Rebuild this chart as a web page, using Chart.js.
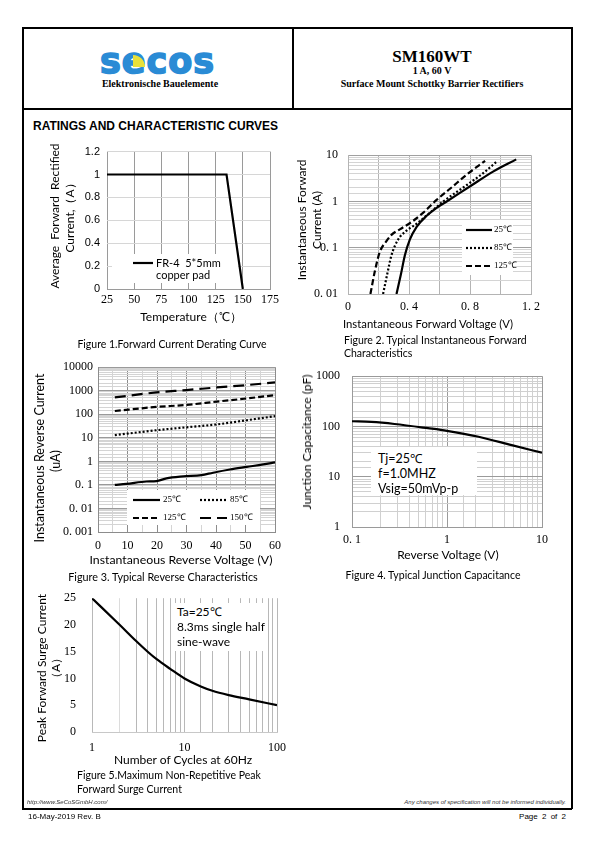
<!DOCTYPE html>
<html>
<head>
<meta charset="utf-8">
<script src="https://cdn.jsdelivr.net/npm/chart.js@4.4.1/dist/chart.umd.min.js"></script>
<style>
body { margin: 0; width: 595px; height: 842px; position: relative; background: #fff; overflow: hidden; }
.t { position: absolute; white-space: nowrap; color: #000; line-height: 1; font-family: Lato, sans-serif; font-size: 12px; }
.c { transform: translate(-50%, -50%); }
.l { transform: translateY(-50%); }
.r { transform: translate(-100%, -50%); }
.v { transform: translate(-50%, -50%) rotate(-90deg); }
.hd { font-family: "Liberation Serif", serif; font-weight: bold; font-size: 10px; }
.cap { font-size: 10.5px; }
.ft { font-family: "Liberation Sans", sans-serif; font-size: 6px; font-style: italic; color: #333; }
.note { position: absolute; background: #fff; }
canvas { position: absolute; }
.line { position: absolute; background: #000; }
</style>
</head>
<body>

<!-- page frame -->
<div class="line" style="left:22px;top:27px;width:550px;height:1.5px"></div>
<div class="line" style="left:22px;top:108px;width:550px;height:1.5px"></div>
<div class="line" style="left:22px;top:808px;width:550px;height:1.5px"></div>
<div class="line" style="left:22px;top:27px;width:1.5px;height:782px"></div>
<div class="line" style="left:571px;top:27px;width:1.5px;height:782px"></div>
<div class="line" style="left:292px;top:27px;width:1.5px;height:81px"></div>

<!-- header -->
<div class="t" style="left:100px;top:44px;font-family:'DejaVu Sans';font-weight:bold;font-size:35px;letter-spacing:1px;color:#2a8bd5;-webkit-text-stroke:1.6px #2a8bd5">secos</div>
<div style="position:absolute;left:133px;top:55px;width:12px;height:12px;background:#e8e03a;border-top-right-radius:12px"></div>
<div class="t c hd" style="left:160px;top:84px">Elektronische Bauelemente</div>
<div class="t c hd" style="left:432px;top:56px;font-size:17px">SM160WT</div>
<div class="t c hd" style="left:432px;top:71px">1 A, 60 V</div>
<div class="t c hd" style="left:432px;top:84px">Surface Mount Schottky Barrier Rectifiers</div>
<div class="t l" style="left:33px;top:126px;font-family:'Liberation Sans';font-weight:bold;font-size:12px">RATINGS AND CHARACTERISTIC CURVES</div>

<!-- chart 1 -->
<canvas id="c1"></canvas>
<div class="t v" style="left:55px;top:216px">Average&nbsp; Forward&nbsp; Rectified</div>
<div class="t v" style="left:70px;top:215px">Current,（A）</div>
<div class="t c" style="left:191px;top:317px">Temperature（℃）</div>
<div class="t c cap" style="left:172px;top:344px">Figure 1.Forward Current Derating Curve</div>

<!-- chart 2 -->
<canvas id="c2"></canvas>
<div class="t v" style="left:302px;top:220px">Instantaneous Forward</div>
<div class="t v" style="left:317px;top:220px">Current (A)</div>
<div class="t c" style="left:428px;top:324px;font-size:11.3px">Instantaneous Forward Voltage (V)</div>
<div class="t l cap" style="left:344px;top:340px">Figure 2. Typical Instantaneous Forward</div>
<div class="t l cap" style="left:344px;top:353px">Characteristics</div>

<!-- chart 3 -->
<canvas id="c3"></canvas>
<div class="t v" style="left:40px;top:458px;font-size:12.5px">Instantaneous Reverse Current</div>
<div class="t v" style="left:56px;top:461px;font-size:12.5px">(uA)</div>
<div class="t c" style="left:181px;top:560px;font-size:12.3px">Instantaneous Reverse Voltage (V)</div>
<div class="t c cap" style="left:163px;top:577px;font-size:10.8px">Figure 3. Typical Reverse Characteristics</div>

<!-- chart 4 -->
<canvas id="c4"></canvas>
<div class="t v" style="left:307px;top:442px">Junction Capacitance (pF)</div>
<div class="t c" style="left:448px;top:555px">Reverse Voltage (V)</div>
<div class="t c cap" style="left:433px;top:575px">Figure 4. Typical Junction Capacitance</div>
<div class="note" style="left:371px;top:447px;width:106px;height:48px"></div>
<div class="t l" style="left:378px;top:459px;font-size:12.5px">Tj=25℃</div>
<div class="t l" style="left:378px;top:474px;font-size:12.5px">f=1.0MHZ</div>
<div class="t l" style="left:378px;top:489px;font-size:12.5px">Vsig=50mVp-p</div>

<!-- chart 5 -->
<canvas id="c5"></canvas>
<div class="t v" style="left:42px;top:668px">Peak Forward Surge Current</div>
<div class="t v" style="left:56px;top:668px">（A）</div>
<div class="t c" style="left:183px;top:760px">Number of Cycles at 60Hz</div>
<div class="t l cap" style="left:77px;top:775px">Figure 5.Maximum Non-Repetitive Peak</div>
<div class="t l cap" style="left:77px;top:789px">Forward Surge Current</div>
<div class="note" style="left:172px;top:603px;width:92px;height:48px"></div>
<div class="t l" style="left:177px;top:612px">Ta=25℃</div>
<div class="t l" style="left:177px;top:627px">8.3ms single half</div>
<div class="t l" style="left:177px;top:642px">sine-wave</div>

<!-- footer -->
<div class="t l ft" style="left:27px;top:802px">http://www.SeCoSGmbH.com/</div>
<div class="t r ft" style="left:566px;top:802px">Any changes of specification will not be informed individually.</div>
<div class="t l" style="left:28px;top:817px;font-family:'Liberation Sans';font-size:8px">16-May-2019 Rev. B</div>
<div class="t r" style="left:566px;top:817px;font-family:'Liberation Sans';font-size:8px;word-spacing:2px">Page 2 of 2</div>

<script>
// Figure 1 - derating
const deratTemp = [25, 135, 150];
const deratAmp = [1, 1, 0];
const deratYLabels = ['0', '0.2', '0.4', '0.6', '0.8', '1', '1.2'];

// Figure 2 - forward characteristics
const fwdV25 = [0.318, 0.347, 0.373, 0.406, 0.45, 0.516, 0.581, 0.647, 0.801, 0.954, 1.103];
const fwdI25 = [0.01, 0.0266, 0.0687, 0.151, 0.283, 0.49, 0.73, 1.0, 2.13, 4.48, 8.13];
const fwdV85 = [0.23, 0.257, 0.285, 0.329, 0.384, 0.45, 0.538, 0.625, 0.779, 0.888, 0.98];
const fwdI85 = [0.01, 0.0266, 0.0687, 0.151, 0.234, 0.33, 0.575, 1.0, 2.27, 4.13, 7.53];
const fwdV125 = [0.147, 0.176, 0.208, 0.252, 0.285, 0.34, 0.417, 0.494, 0.581, 0.669, 0.779, 0.899];
const fwdI125 = [0.01, 0.031, 0.08, 0.139, 0.19, 0.25, 0.36, 0.575, 1.08, 1.88, 3.82, 7.53];
const fwdXLabels = ['0', '', '0. 4', '', '0. 8', '', '1. 2'];
const fwdYTicks = [0.01, 0.1, 1, 10];
const fwdYLabels = ['0. 01', '0. 1', '1', '10'];

// Figure 3 - reverse characteristics
const rev25Volt = [5.7, 9.6, 16.4, 19.8, 23.2, 28.9, 35.1, 39, 44.7, 50.4, 56, 60];
const rev25Cur = [0.1, 0.11, 0.14, 0.145, 0.19, 0.23, 0.26, 0.33, 0.45, 0.58, 0.74, 0.91];
const revVolt = [5.7, 19.8, 30, 40.2, 50.4, 60];
const rev85Cur = [13, 21, 28, 37, 56, 83];
const rev125Cur = [138, 205, 250, 345, 470, 650];
const rev150Cur = [520, 850, 1070, 1380, 1740, 2250];
const revXLabels = ['0', '', '10', '', '20', '', '30', '', '40', '', '50', '', '60'];
const revYTicks = [0.001, 0.01, 0.1, 1, 10, 100, 1000, 10000];
const revYLabels = ['0. 001', '0. 01', '0. 1', '1', '10', '100', '1000', '10000'];

// Figure 4 - junction capacitance
const capVolt = [0.1, 0.16, 0.28, 0.63, 1.0, 2.15, 4.8, 10];
const capPf = [127, 123, 112, 92.5, 82, 62.5, 42.5, 30];
const capXTicks = [0.1, 1, 10];
const capXLabels = ['0. 1', '1', '10'];
const capYTicks = [1, 10, 100, 1000];
const capYLabels = ['1', '10', '100', '1000'];

// Figure 5 - surge current
const surgeCycles = [1, 2, 3, 4, 5, 7, 10, 15, 20, 30, 50, 100];
const surgeAmp = [25, 20, 17, 15, 13.6, 11.8, 10, 8.5, 7.7, 6.9, 6.1, 5.0];
const surgeXTicks = [1, 10, 100];
const surgeXLabels = ['1', '10', '100'];

const serif = { family: 'Liberation Serif', size: 12 };

function pts(xs, ys) {
    return xs.map((x, i) => ({ x: x, y: ys[i] }));
}

function isDecade(v) {
    const e = Math.log10(v);
    return Math.abs(e - Math.round(e)) < 1e-6;
}

function logLabel(ticks, labels) {
    return v => {
        const i = ticks.findIndex(t => Math.abs(v / t - 1) < 1e-6);
        return i < 0 ? '' : labels[i];
    };
}

function logGrid(major, minor) {
    return ctx => (ctx.tick && isDecade(ctx.tick.value)) ? major : minor;
}

function series(label, data, dash, smooth) {
    return {
        label: label, data: data, borderColor: '#000', borderWidth: 2.2,
        borderDash: dash || [], pointRadius: 0, fill: false,
        cubicInterpolationMode: smooth ? 'monotone' : 'default', tension: 0
    };
}

// legend drawn inside the plot, in page coordinates
const insideLegend = {
    id: 'insideLegend',
    beforeDatasetsDraw(chart, args, opts) {
        if (!opts.items) return;
        const ctx = chart.ctx;
        const ox = opts.origin[0], oy = opts.origin[1];
        ctx.save();
        ctx.fillStyle = '#fff';
        ctx.fillRect(opts.box[0] - ox, opts.box[1] - oy, opts.box[2], opts.box[3]);
        opts.items.forEach(it => {
            const ds = chart.data.datasets[it.ds];
            ctx.strokeStyle = ds.borderColor;
            ctx.lineWidth = ds.borderWidth;
            ctx.setLineDash(ds.borderDash || []);
            ctx.beginPath();
            ctx.moveTo(it.x - ox, it.y - oy);
            ctx.lineTo(it.x - ox + opts.len, it.y - oy);
            ctx.stroke();
            ctx.setLineDash([]);
            ctx.fillStyle = '#000';
            ctx.font = opts.font;
            ctx.textBaseline = 'middle';
            ds.label.split('\n').forEach((s, k) => {
                ctx.fillText(s, it.x - ox + opts.len + opts.gap, it.y - oy + k * opts.lineH);
            });
        });
        ctx.restore();
    }
};

function drawChart(id, box, plot, datasets, scales, legend) {
    const c = document.getElementById(id);
    c.width = box.w;
    c.height = box.h;
    c.style.left = box.l + 'px';
    c.style.top = box.t + 'px';
    scales.x.afterFit = s => { s.height = box.t + box.h - plot.b; };
    scales.y.afterFit = s => { s.width = plot.l - box.l; };
    if (legend) legend.origin = [box.l, box.t];
    return new Chart(c, {
        type: 'line',
        data: { datasets: datasets },
        options: {
            responsive: false,
            animation: false,
            events: [],
            layout: { padding: { top: plot.t - box.t, right: box.l + box.w - plot.r, left: 0, bottom: 0 } },
            scales: scales,
            plugins: { legend: { display: false }, tooltip: { enabled: false }, insideLegend: legend || {} }
        },
        plugins: [insideLegend]
    });
}

// Figure 1
drawChart('c1', { l: 60, t: 138, w: 230, h: 172 }, { l: 107, t: 148, r: 270, b: 289 },
    [series('FR-4  5*5mm\ncopper pad', pts(deratTemp, deratAmp))],
    {
        x: { type: 'linear', min: 25, max: 175,
            ticks: { stepSize: 25, padding: 4, font: serif, color: '#000', autoSkip: false, maxRotation: 0 },
            grid: { color: '#9a9a9a', drawTicks: false }, border: { color: '#9a9a9a' } },
        y: { type: 'linear', min: 0, max: 1.2,
            ticks: { stepSize: 0.2, padding: 7, font: { family: 'Liberation Sans', size: 11 }, color: '#000',
                autoSkip: false, callback: (v, i) => deratYLabels[i] },
            grid: { color: '#d6d6d6', drawTicks: false }, border: { display: false } }
    },
    { box: [112, 254, 126, 29], len: 20, gap: 3, lineH: 12, font: '11px Lato',
      items: [{ ds: 0, x: 133, y: 263 }] });

// Figure 2
drawChart('c2', { l: 305, t: 138, w: 250, h: 180 }, { l: 348, t: 148, r: 531, b: 294 },
    [
        series('25℃', pts(fwdV25, fwdI25), [], true),
        series('85℃', pts(fwdV85, fwdI85), [2, 2], true),
        series('125℃', pts(fwdV125, fwdI125), [6, 3], true)
    ],
    {
        x: { type: 'linear', min: 0, max: 1.2,
            ticks: { stepSize: 0.2, padding: 6, font: serif, color: '#000', autoSkip: false, maxRotation: 0,
                callback: (v, i) => fwdXLabels[i] },
            grid: { color: '#b4b4b4', drawTicks: false }, border: { color: '#b4b4b4' } },
        y: { type: 'logarithmic', min: 0.01, max: 10,
            ticks: { padding: 10, font: serif, color: '#000', autoSkip: false, callback: logLabel(fwdYTicks, fwdYLabels) },
            grid: { color: logGrid('#a0a0a0', '#d4d4d4'), drawTicks: false }, border: { color: '#b4b4b4' } }
    },
    { box: [462, 220, 51, 55], len: 26, gap: 2, lineH: 10, font: '9px "Liberation Serif"',
      items: [{ ds: 0, x: 466, y: 230 }, { ds: 1, x: 466, y: 248 }, { ds: 2, x: 466, y: 266 }] });

// Figure 3
drawChart('c3', { l: 35, t: 355, w: 260, h: 200 }, { l: 98, t: 367, r: 275, b: 532 },
    [
        series('25℃', pts(rev25Volt, rev25Cur), [], true),
        series('85℃', pts(revVolt, rev85Cur), [2, 2], true),
        series('125℃', pts(revVolt, rev125Cur), [6, 3], true),
        series('150℃', pts(revVolt, rev150Cur), [11, 6], true)
    ],
    {
        x: { type: 'linear', min: 0, max: 60,
            ticks: { stepSize: 5, padding: 7, font: serif, color: '#000', autoSkip: false, maxRotation: 0,
                callback: (v, i) => revXLabels[i] },
            grid: { color: ctx => (ctx.tick && ctx.tick.value % 10 === 0) ? '#8c8c8c' : '#d4d4d4', drawTicks: false },
            border: { color: '#8c8c8c' } },
        y: { type: 'logarithmic', min: 0.001, max: 10000,
            ticks: { padding: 5, font: serif, color: '#000', autoSkip: false, callback: logLabel(revYTicks, revYLabels) },
            grid: { color: logGrid('#9a9a9a', '#d4d4d4'), drawTicks: false }, border: { color: '#8c8c8c' } }
    },
    { box: [127, 490, 133, 35], len: 27, gap: 3, lineH: 10, font: '9px "Liberation Serif"',
      items: [{ ds: 0, x: 133, y: 500 }, { ds: 1, x: 200, y: 500 }, { ds: 2, x: 133, y: 518 }, { ds: 3, x: 200, y: 518 }] });

// Figure 4
drawChart('c4', { l: 300, t: 357, w: 262, h: 193 }, { l: 352, t: 369, r: 542, b: 527 },
    [series('Cj', pts(capVolt, capPf), [], true)],
    {
        x: { type: 'logarithmic', min: 0.1, max: 10,
            ticks: { padding: 6, font: serif, color: '#000', autoSkip: false, maxRotation: 0, callback: logLabel(capXTicks, capXLabels) },
            grid: { color: logGrid('#9a9a9a', '#d0d0d0'), drawTicks: false }, border: { color: '#9a9a9a' } },
        y: { type: 'logarithmic', min: 1, max: 1000,
            ticks: { padding: 12, font: serif, color: '#000', autoSkip: false, callback: logLabel(capYTicks, capYLabels) },
            grid: { color: logGrid('#9a9a9a', '#d0d0d0'), drawTicks: false }, border: { color: '#9a9a9a' } }
    });

// Figure 5
drawChart('c5', { l: 55, t: 583, w: 245, h: 172 }, { l: 92, t: 595, r: 277, b: 732 },
    [series('IFSM', pts(surgeCycles, surgeAmp), [], true)],
    {
        x: { type: 'logarithmic', min: 1, max: 100,
            ticks: { padding: 9, font: serif, color: '#000', autoSkip: false, maxRotation: 0, callback: logLabel(surgeXTicks, surgeXLabels) },
            grid: { color: ctx => (ctx.tick && Math.abs(ctx.tick.value - 2) < 1e-6) ? '#dcdcdc' : '#b8b8b8', drawTicks: false },
            border: { color: '#c8c8c8' } },
        y: { type: 'linear', min: 0, max: 25,
            ticks: { stepSize: 5, padding: 8, font: serif, color: '#000', autoSkip: false },
            grid: { display: false }, border: { display: false } }
    });
</script>
</body>
</html>
